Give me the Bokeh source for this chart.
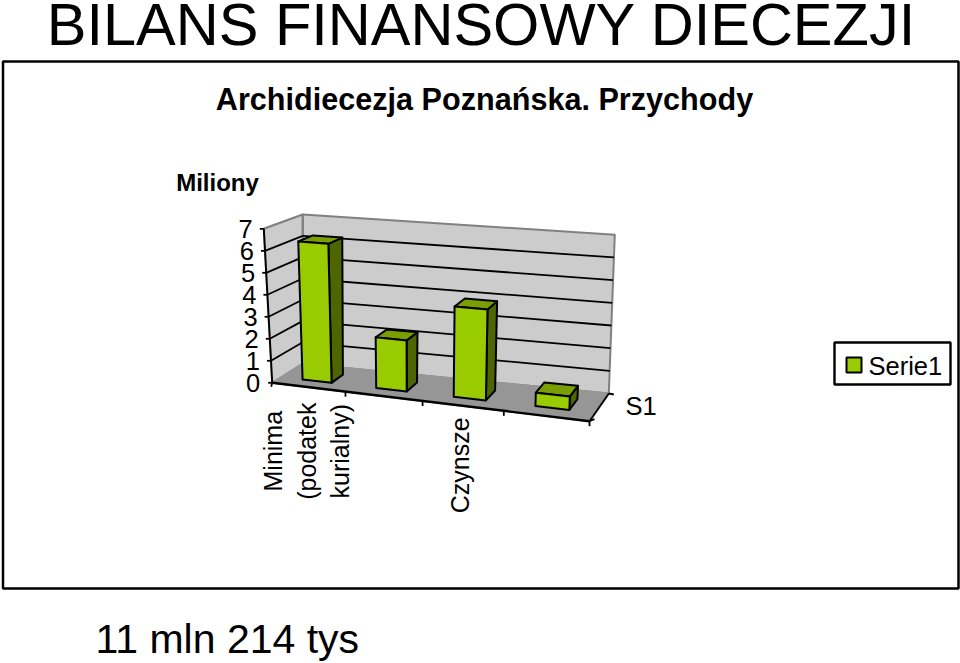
from bokeh.plotting import figure
from bokeh.embed import file_html
from bokeh.resources import INLINE
from bokeh.core.properties import value

# ---- chart data ----
main_title = "BILANS FINANSOWY DIECEZJI"
chart_title = "Archidiecezja Poznańska. Przychody"
unit_label = "Miliony"
footer = "11 mln 214 tys"
categories = ["Minima\n(podatek\nkurialny)", "", "Czynsze", ""]
series_name = "Serie1"
depth_label = "S1"
values = [6.3, 2.27, 3.97, 0.58]
value_ticks = [0, 1, 2, 3, 4, 5, 6, 7]

# ---- colours ----
FRONT, SIDE, TOP = "#99cc00", "#4d6600", "#7a9f00"
WALL, FLOOR, EDGE = "#cccccc", "#969696", "#808080"
FONT = value("Liberation Sans")

# ---- the projection of the 3-D box on to the page ----
# (category position 0..1, value 0..7, depth 0..1) -> page pixels
FL0, FR0 = (271.7, 382.3), (589.0, 420.7)
FL7, FR7 = (263.3, 228.3), (597.0, 254.0)
BL0, BR0 = (301.7, 363.3), (608.3, 393.0)
BL7, BR7 = (302.3, 214.0), (614.3, 234.3)
PERSP = 1.11
VMAX = 7.0


def mix(a, b, k):
    return (a[0] + (b[0] - a[0]) * k, a[1] + (b[1] - a[1]) * k)


def proj(t, v, d):
    u = t / (t + (1 - t) * PERSP)
    k = v / VMAX
    front = mix(mix(FL0, FR0, u), mix(FL7, FR7, u), k)
    back = mix(mix(BL0, BR0, u), mix(BL7, BR7, u), k)
    return mix(front, back, d)


def patch(p, pts, fill, line=None, lw=2.0):
    p.patch([q[0] for q in pts], [q[1] for q in pts], fill_color=fill,
            line_color=line if line else fill, line_width=lw, line_join="round")


def seg(p, a, b, color="black", lw=1.8):
    p.line([a[0], b[0]], [a[1], b[1]], line_color=color, line_width=lw)


def label(p, x, y, s, size, align="left", bold=False, angle=0, lh=1.2):
    p.text([x], [y], text=[s], text_font=FONT, text_font_size=f"{size}px",
           text_align=align, text_baseline="middle", angle=angle,
           text_font_style="bold" if bold else "normal",
           text_color="black", text_line_height=lh)


p = figure(width=960, height=663, x_range=(0, 960), y_range=(663, 0),
           output_backend="svg", toolbar_location=None, min_border=0,
           outline_line_color=None, background_fill_color="white")
p.axis.visible = False
p.grid.visible = False

# titles and chart frame
label(p, 481, 24, main_title, 59.5, "center")
p.patch([2.5, 958, 958, 2.5], [61, 61, 588, 588], fill_color="white",
        line_color="black", line_width=2.5)
label(p, 484, 98.5, chart_title, 30.6, "center", bold=True)
label(p, 217, 182, unit_label, 24, "center", bold=True)
label(p, 95, 638, footer, 41)

# walls and floor
patch(p, [proj(0, 0, 0), proj(0, VMAX, 0), proj(0, VMAX, 1), proj(0, 0, 1)], WALL)
patch(p, [proj(0, 0, 1), proj(0, VMAX, 1), proj(1, VMAX, 1), proj(1, 0, 1)], WALL, EDGE, 2)
patch(p, [proj(0, 0, 0), proj(1, 0, 0), proj(1, 0, 1), proj(0, 0, 1)], FLOOR)
seg(p, proj(0, VMAX, 0), proj(0, VMAX, 1), EDGE, 2)
seg(p, proj(0, VMAX, 1), proj(0, 0, 1), EDGE, 2)

# value grid, ticks and labels
for v in value_ticks:
    if v and v < VMAX:
        seg(p, proj(0, v, 0), proj(0, v, 1))
        seg(p, proj(0, v, 1), proj(1, v, 1))
    a = proj(0, v, 0)
    seg(p, (a[0] - 4, a[1]), a)
    label(p, a[0] - 12 if v == 0 else a[0] - 11, a[1], str(v), 25.5, "right")

# axis lines
seg(p, proj(0, 0, 0), proj(0, VMAX, 0), lw=2)
seg(p, proj(0, 0, 0), proj(1, 0, 0), lw=2.4)
seg(p, proj(1, 0, 0), proj(1, 0, 1), lw=1.8)

# category ticks and labels
n = len(categories)
for i in range(1, n + 1):
    a = proj(i / n, 0, 0)
    seg(p, a, (a[0], a[1] + 5))
a = proj(0, 0, 0)
seg(p, a, (a[0] - 1, a[1] + 4))
label_drop = [64, 0, 59.5, 0]
label_shift = [-1.5, 0, -2.5, 0]
for i, c in enumerate(categories):
    if c:
        a = proj((i + 0.5) / n, 0, 0)
        label(p, a[0] + label_shift[i], a[1] + label_drop[i], c, 25, "center",
              angle=1.5708, lh=1.2)

# depth ticks and label
for d in (0, 1):
    a = proj(1, 0, d)
    seg(p, a, (a[0] + 5, a[1] - 2 if d == 0 else a[1] + 1))
a = proj(1, 0, 0.5)
label(p, a[0] + 42, a[1] - 1, depth_label, 25.5, "center")

# bars, from the values
BAR_W, D0, D1 = 0.10, 0.30, 0.70
for i, val in enumerate(values):
    t0 = (i + 0.5) / n - BAR_W / 2
    t1 = t0 + BAR_W
    patch(p, [proj(t1, 0, D0), proj(t1, val, D0), proj(t1, val, D1), proj(t1, 0, D1)], SIDE, "black")
    patch(p, [proj(t0, val, D0), proj(t1, val, D0), proj(t1, val, D1), proj(t0, val, D1)], TOP, "black")
    patch(p, [proj(t0, 0, D0), proj(t1, 0, D0), proj(t1, val, D0), proj(t0, val, D0)], FRONT, "black")

# legend
p.patch([834, 950, 950, 834], [342, 342, 384, 384], fill_color="white",
        line_color="black", line_width=2.4)
p.patch([846, 861, 861, 846], [357, 357, 372, 372], fill_color=FRONT,
        line_color="black", line_width=2)
label(p, 868, 365, series_name, 25.5)

open("out.html", "w").write(file_html(p, INLINE))
